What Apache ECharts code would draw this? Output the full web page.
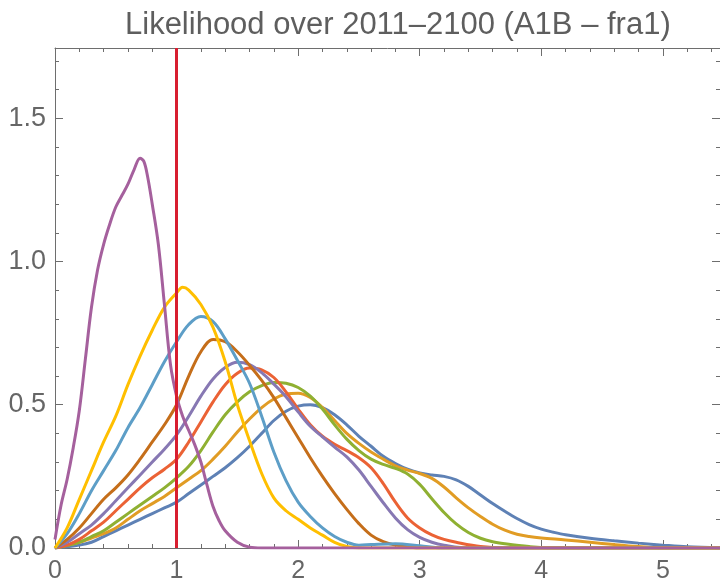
<!DOCTYPE html>
<html>
<head>
<meta charset="utf-8">
<script src="https://cdn.jsdelivr.net/npm/echarts@6/dist/echarts.min.js"></script>
<style>
html, body { margin: 0; padding: 0; background: #fff; }
#main { width: 720px; height: 584px; }
</style>
</head>
<body>
<div id="main"></div>
<script>
var titleText = 'Likelihood over 2011\u20132100 (A1B \u2013 fra1)';
var thresholdX = 1;

// curves, [x, density]
var blue = [[0,0],[0.2,0.01],[0.3,0.02],[0.4,0.04],[0.5,0.06],[0.6,0.08],[0.7,0.1],[0.8,0.12],[0.9,0.14],[1.0,0.16],[1.1,0.19],[1.2,0.22],[1.3,0.25],[1.4,0.28],[1.5,0.315],[1.6,0.355],[1.7,0.4],[1.8,0.445],[1.9,0.477],[2.0,0.495],[2.1,0.5],[2.2,0.49],[2.3,0.465],[2.4,0.43],[2.5,0.39],[2.6,0.355],[2.7,0.32],[2.8,0.295],[2.9,0.275],[3.0,0.262],[3.1,0.255],[3.2,0.25],[3.3,0.238],[3.4,0.215],[3.5,0.185],[3.6,0.155],[3.7,0.128],[3.8,0.103],[3.9,0.082],[4.0,0.066],[4.1,0.055],[4.2,0.046],[4.4,0.034],[4.6,0.025],[4.8,0.017],[5.0,0.01],[5.2,0.004],[5.5,0]];
var orange = [[0,0],[0.2,0.02],[0.3,0.035],[0.4,0.05],[0.5,0.07],[0.6,0.1],[0.7,0.13],[0.8,0.155],[0.9,0.18],[1.0,0.21],[1.1,0.24],[1.2,0.27],[1.3,0.31],[1.4,0.355],[1.5,0.405],[1.6,0.45],[1.7,0.49],[1.8,0.52],[1.9,0.537],[2.0,0.54],[2.1,0.525],[2.2,0.49],[2.3,0.445],[2.4,0.4],[2.5,0.365],[2.6,0.335],[2.7,0.31],[2.8,0.287],[2.9,0.272],[3.0,0.26],[3.1,0.243],[3.2,0.213],[3.3,0.175],[3.4,0.14],[3.5,0.11],[3.6,0.083],[3.7,0.062],[3.8,0.048],[3.9,0.04],[4.0,0.035],[4.2,0.028],[4.4,0.02],[4.6,0.012],[4.8,0.005],[5.0,0],[5.5,0]];
var green = [[0,0],[0.2,0.02],[0.3,0.04],[0.4,0.06],[0.5,0.09],[0.6,0.12],[0.7,0.15],[0.8,0.18],[0.9,0.21],[1.0,0.245],[1.1,0.285],[1.2,0.34],[1.3,0.405],[1.4,0.465],[1.5,0.51],[1.6,0.545],[1.7,0.567],[1.8,0.578],[1.9,0.575],[2.0,0.56],[2.1,0.53],[2.2,0.485],[2.3,0.43],[2.4,0.38],[2.5,0.34],[2.6,0.31],[2.7,0.292],[2.8,0.278],[2.9,0.258],[3.0,0.222],[3.1,0.172],[3.2,0.124],[3.3,0.084],[3.4,0.054],[3.5,0.034],[3.6,0.022],[3.7,0.015],[3.9,0.005],[4.1,0],[5.5,0]];
var red = [[0,0],[0.1,0.01],[0.2,0.03],[0.3,0.06],[0.4,0.09],[0.5,0.13],[0.6,0.17],[0.7,0.21],[0.8,0.245],[0.9,0.275],[1.0,0.31],[1.1,0.37],[1.2,0.44],[1.3,0.51],[1.4,0.57],[1.5,0.61],[1.6,0.628],[1.7,0.622],[1.8,0.595],[1.9,0.545],[2.0,0.485],[2.1,0.43],[2.2,0.39],[2.3,0.362],[2.4,0.34],[2.5,0.315],[2.6,0.28],[2.7,0.225],[2.8,0.16],[2.9,0.105],[3.0,0.07],[3.1,0.046],[3.2,0.03],[3.3,0.02],[3.5,0.005],[3.7,0],[5.5,0]];
var violet = [[0,0],[0.1,0.02],[0.2,0.05],[0.3,0.08],[0.4,0.12],[0.5,0.165],[0.6,0.21],[0.7,0.255],[0.8,0.3],[0.9,0.345],[1.0,0.395],[1.1,0.46],[1.2,0.53],[1.3,0.59],[1.4,0.63],[1.5,0.648],[1.6,0.64],[1.7,0.612],[1.8,0.572],[1.9,0.528],[2.0,0.475],[2.1,0.425],[2.2,0.388],[2.3,0.352],[2.4,0.318],[2.5,0.272],[2.6,0.215],[2.7,0.158],[2.8,0.105],[2.9,0.064],[3.0,0.037],[3.1,0.02],[3.2,0.01],[3.4,0],[5.5,0]];
var brown = [[0,0],[0.1,0.03],[0.2,0.07],[0.3,0.12],[0.4,0.17],[0.5,0.21],[0.6,0.255],[0.7,0.31],[0.8,0.37],[0.9,0.43],[1.0,0.5],[1.1,0.6],[1.2,0.685],[1.3,0.728],[1.4,0.72],[1.5,0.685],[1.6,0.638],[1.7,0.585],[1.8,0.525],[1.9,0.455],[2.0,0.385],[2.1,0.315],[2.2,0.25],[2.3,0.19],[2.4,0.135],[2.5,0.085],[2.6,0.045],[2.7,0.022],[2.8,0.01],[2.9,0.005],[3.0,0],[5.5,0]];
var lightBlue = [[0,0],[0.1,0.05],[0.2,0.12],[0.3,0.2],[0.4,0.27],[0.5,0.34],[0.6,0.42],[0.7,0.49],[0.8,0.57],[0.9,0.65],[1.0,0.72],[1.1,0.78],[1.2,0.808],[1.3,0.79],[1.4,0.73],[1.5,0.655],[1.6,0.575],[1.7,0.46],[1.8,0.335],[1.9,0.235],[2.0,0.16],[2.1,0.11],[2.2,0.07],[2.3,0.04],[2.4,0.02],[2.5,0.01],[2.6,0.012],[2.8,0.015],[3.0,0.008],[3.2,0],[5.5,0]];
var yellow = [[0,0],[0.1,0.07],[0.2,0.17],[0.3,0.27],[0.4,0.37],[0.5,0.46],[0.6,0.57],[0.7,0.67],[0.8,0.76],[0.9,0.84],[1.0,0.89],[1.05,0.91],[1.1,0.9],[1.2,0.85],[1.3,0.77],[1.4,0.65],[1.5,0.5],[1.6,0.375],[1.7,0.26],[1.8,0.175],[1.9,0.13],[2.0,0.1],[2.1,0.07],[2.2,0.045],[2.3,0.02],[2.4,0.005],[2.5,0],[5.5,0]];
var magenta = [[0,0.03],[0.05,0.15],[0.1,0.24],[0.15,0.35],[0.2,0.48],[0.25,0.66],[0.3,0.84],[0.35,0.97],[0.4,1.06],[0.45,1.13],[0.5,1.19],[0.55,1.23],[0.6,1.27],[0.65,1.32],[0.7,1.36],[0.73,1.35],[0.76,1.3],[0.8,1.2],[0.85,1.06],[0.9,0.85],[0.95,0.64],[1.0,0.53],[1.05,0.46],[1.1,0.41],[1.15,0.36],[1.2,0.3],[1.25,0.22],[1.3,0.145],[1.35,0.095],[1.4,0.06],[1.5,0.02],[1.6,0.003],[1.7,0],[5.5,0]];

var curves = [blue, orange, green, red, violet, brown, lightBlue, yellow, magenta];
var colors = ['#5E81B5', '#E19C24', '#8FB032', '#EB6235', '#8778B3', '#C56E1A', '#5D9EC7', '#FFBF00', '#A5609D'];

var xMax = 5.47, yMax = 1.745;
var frameColor = '#6e6e6e';
var labelColor = '#666';
var font = 'Liberation Sans, Arial, sans-serif';

function xAxisOf(pos, step, tickLen, withLine, withLabel) {
    return {
        type: 'value', position: pos, min: 0, max: xMax, interval: step,
        axisLine: { show: withLine, onZero: false, lineStyle: { color: frameColor, width: 1 } },
        axisTick: { show: true, inside: true, length: tickLen, lineStyle: { color: frameColor } },
        axisLabel: {
            show: withLabel, margin: 11, color: labelColor, fontSize: 25,
            fontFamily: font, showMaxLabel: false,
            formatter: function (v) { return String(v); }
        },
        splitLine: { show: false }
    };
}
function yAxisOf(pos, step, tickLen, withLine, withLabel) {
    return {
        type: 'value', position: pos, min: 0, max: yMax, interval: step,
        axisLine: { show: withLine, onZero: false, lineStyle: { color: frameColor, width: 1 } },
        axisTick: { show: true, inside: true, length: tickLen, lineStyle: { color: frameColor } },
        axisLabel: {
            show: withLabel, margin: 9, color: labelColor, fontSize: 27,
            fontFamily: font, showMaxLabel: false,
            formatter: function (v) { return v.toFixed(1); }
        },
        splitLine: { show: false }
    };
}

var series = [];
for (var i = 0; i < curves.length; i++) {
    series.push({
        type: 'line',
        data: curves[i],
        showSymbol: false,
        smooth: 0.35,
        lineStyle: { color: colors[i], width: 3 },
        silent: true
    });
}
// vertical reference line
series.push({
    type: 'line',
    data: [],
    markLine: {
        silent: true,
        symbol: ['none', 'none'],
        label: { show: false },
        lineStyle: { color: '#d81e30', width: 3, type: 'solid', opacity: 1 },
        data: [{ xAxis: thresholdX }]
    }
});

var myChart = echarts.init(document.getElementById('main'));
myChart.setOption({
    animation: false,
    title: {
        text: titleText, left: 120, top: 5,
        textStyle: { color: '#5e5e5e', fontSize: 31, fontWeight: 'normal', fontFamily: font }
    },
    grid: { left: 55, right: -3, top: 48, bottom: 33 },
    xAxis: [
        xAxisOf('bottom', 1, 8, true, true),
        xAxisOf('bottom', 0.2, 4, false, false),
        xAxisOf('top', 1, 8, true, false),
        xAxisOf('top', 0.2, 4, false, false)
    ],
    yAxis: [
        yAxisOf('left', 0.5, 8, true, true),
        yAxisOf('left', 0.1, 4, false, false),
        yAxisOf('right', 0.5, 8, true, false),
        yAxisOf('right', 0.1, 4, false, false)
    ],
    series: series
});
</script>
</body>
</html>
